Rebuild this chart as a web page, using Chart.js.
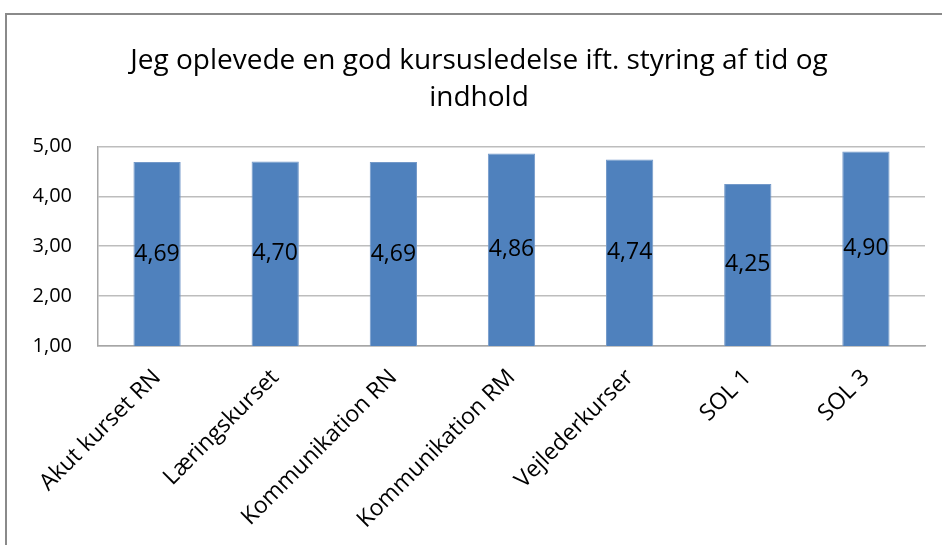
<!DOCTYPE html>
<html>
<head>
<meta charset="utf-8">
<script src="https://cdn.jsdelivr.net/npm/chart.js@4"></script>
<style>
  html, body { margin: 0; padding: 0; background: #fff; overflow: hidden; }
  #wrap { position: relative; width: 942px; height: 545px; }
  #frame { position: absolute; left: 5px; top: 13px; width: 1000px; height: 600px;
           border: 2px solid #8a8a8a; box-sizing: border-box; }
  canvas { position: absolute; left: 0; top: 0; }
</style>
</head>
<body>
<div id="wrap">
  <div id="frame"></div>
  <canvas id="myChart" width="942" height="545"></canvas>
</div>
<script>
var categories = ["Akut kurset RN", "Læringskurset", "Kommunikation RN", "Kommunikation RM", "Vejlederkurser", "SOL 1", "SOL 3"];
var scores = [4.69, 4.70, 4.69, 4.86, 4.74, 4.25, 4.90];
var titleLines = ["Jeg oplevede en god kursusledelse ift. styring af tid og", "indhold"];

var FONT = '"Open Sans", Lato, sans-serif';

function danish(v) {
    return Number(v).toFixed(2).replace('.', ',');
}

// value labels centred in the visible part of each bar
var barLabels = {
    id: 'barLabels',
    afterDatasetsDraw: function(chart) {
        var ctx = chart.ctx;
        var bottom = chart.chartArea.bottom;
        ctx.save();
        ctx.font = '23px ' + FONT;
        ctx.fillStyle = '#000';
        ctx.textAlign = 'center';
        ctx.textBaseline = 'middle';
        chart.getDatasetMeta(0).data.forEach(function(bar, i) {
            var base = Math.min(bar.base, bottom);
            ctx.fillText(danish(scores[i]), bar.x, (bar.y + base) / 2);
        });
        ctx.restore();
    }
};

function displayChart() {
    var ctx = document.getElementById('myChart').getContext('2d');
    var chart = new Chart(ctx, {
        type: 'bar',
        data: {
            labels: categories,
            datasets: [{
                data: scores,
                backgroundColor: '#4f81bd',
                borderColor: '#7399c9',
                borderWidth: 1,
                categoryPercentage: 1,
                barPercentage: 0.4
            }]
        },
        options: {
            responsive: false,
            animation: false,
            layout: { padding: { left: 33, right: 17, top: 0, bottom: 0 } },
            plugins: {
                legend: { display: false },
                tooltip: { enabled: false },
                title: {
                    display: true,
                    text: titleLines,
                    color: '#000',
                    font: { family: FONT, size: 28, weight: 'normal', lineHeight: 1.33 },
                    padding: { top: 42, bottom: 30 }
                }
            },
            scales: {
                y: {
                    min: 1,
                    max: 5,
                    afterFit: function(scale) { scale.width = 65; },
                    ticks: {
                        stepSize: 1,
                        color: '#000',
                        padding: 26,
                        font: { family: FONT, size: 20 },
                        callback: function(v) { return danish(v); }
                    },
                    grid: { color: '#bdbdbd', lineWidth: 1.5, drawTicks: false },
                    border: { display: true, color: '#a6a6a6', width: 1.5 }
                },
                x: {
                    afterFit: function(scale) { scale.height = 199; },
                    ticks: {
                        color: '#000',
                        minRotation: 45,
                        maxRotation: 45,
                        padding: 10,
                        font: { family: FONT, size: 23 }
                    },
                    grid: { display: false },
                    border: { display: true, color: '#a6a6a6', width: 1.5 }
                }
            }
        },
        plugins: [barLabels]
    });
    return chart;
}

displayChart();
</script>
</body>
</html>
